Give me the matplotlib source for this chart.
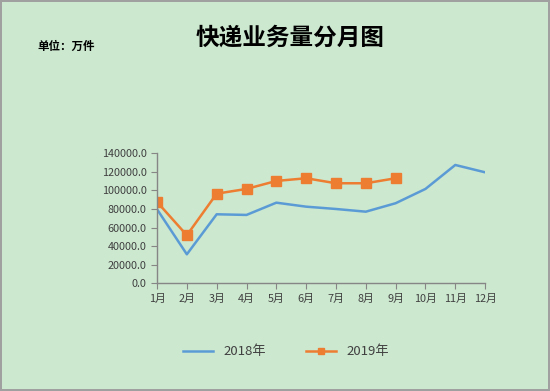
import matplotlib.pyplot as plt
from matplotlib.ticker import FuncFormatter

plt.rcParams['font.family'] = ['Noto Sans CJK SC', 'DejaVu Sans']

months = ['1月', '2月', '3月', '4月', '5月', '6月', '7月', '8月', '9月', '10月', '11月', '12月']
y2018 = [79700, 31200, 74300, 73600, 86800, 82500, 80000, 77100, 86200, 101600, 127400, 119500]
y2019 = [87600, 51700, 96500, 101600, 110200, 113100, 107700, 107700, 113100]
yticks = [0, 20000, 40000, 60000, 80000, 100000, 120000, 140000]

bg = '#cce8cf'
axis_col = '#868686'
text_col = '#404040'

fig = plt.figure(figsize=(5.5, 3.91), dpi=100)
fig.patch.set_facecolor(bg)
fig.patch.set_edgecolor('#a0a0a0')
fig.patch.set_linewidth(1.5)

ax = fig.add_axes([0.2855, 0.2755, 0.5965, 0.3325])
ax.set_facecolor(bg)

x18 = list(range(len(y2018)))
x19 = list(range(len(y2019)))
ax.plot(x18, y2018, color='#5b9bd5', lw=1.8, label='2018年')
ax.plot(x19, y2019, color='#ed7d31', lw=1.8, marker='s', ms=6.5, label='2019年')

ax.set_xlim(0, 11)
ax.set_ylim(0, 140000)
ax.set_xticks(range(len(months)))
ax.set_xticklabels(months)
ax.set_yticks(yticks)
ax.yaxis.set_major_formatter(FuncFormatter(lambda v, p: '%.1f' % v))

for s in ['top', 'right']:
    ax.spines[s].set_visible(False)
for s in ['left', 'bottom']:
    ax.spines[s].set_color(axis_col)
    ax.spines[s].set_linewidth(1)
ax.tick_params(colors=axis_col, labelcolor=text_col, labelsize=7.8, length=4, direction='out')

fig.text(0.527, 0.903, '快递业务量分月图', ha='center', va='center', fontsize=17, fontweight='bold', color='black')
fig.text(0.069, 0.88, '单位：万件', ha='left', va='center', fontsize=8.3, fontweight='bold', color='black')

leg = fig.legend(loc='center', bbox_to_anchor=(0.52, 0.1), ncol=2, frameon=False,
                 fontsize=9.5, handlelength=2.3, columnspacing=3, markerscale=0.75)
for t in leg.get_texts():
    t.set_color(text_col)

fig.savefig('out.png', dpi=100, facecolor=fig.get_facecolor(), edgecolor=fig.get_edgecolor())
